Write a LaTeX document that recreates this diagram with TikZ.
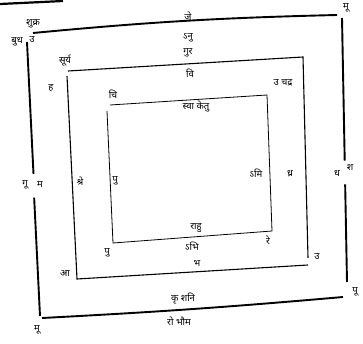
\documentclass[tikz,border=0pt]{standalone}
\usepackage{fontspec}
\newfontfamily\deva[Script=Devanagari]{Noto Sans}
\usetikzlibrary{positioning, calc}

\begin{document}
\begin{tikzpicture}[x=1pt,y=-1pt,
    lbl/.style={font=\deva\bfseries\fontsize{9.5}{10}\selectfont, inner sep=0.5pt},
    outerline/.style={line width=1.9pt},
    midline/.style={line width=1.1pt},
    innerline/.style={line width=0.8pt}]
    \useasboundingbox (0,0) rectangle (363,344);

    % scrap of the page edge
    \draw[line width=2.2pt] (0,4) -- (63,1);

    % outer square corners
    \coordinate (otl) at (33,33);
    \coordinate (otr) at (337,15);
    \coordinate (ort) at (342,18);
    \coordinate (orb) at (347,282);
    \coordinate (obr) at (343,297);
    \coordinate (obl) at (42,318);
    \coordinate (olb) at (40,316);
    \coordinate (olt) at (27,42);
    \draw[outerline] (otl) to[bend left=2] (otr);
    \draw[outerline] (obl) to[bend right=1] (obr);
    \draw[outerline] (olt) -- ($(olt)!0.5!(olb)+(0,-5)$) coordinate (olg1);
    \draw[outerline] ($(olt)!0.55!(olb)+(0,5)$) coordinate (olg2) -- (olb);
    \draw[outerline] (ort) -- ($(ort)!0.54!(orb)$) coordinate (org1);
    \draw[outerline] ($(ort)!0.63!(orb)$) coordinate (org2) -- (orb);

    % middle square corners
    \coordinate (mtl) at (68,71);
    \coordinate (mtr) at (303,57);
    \coordinate (mrb) at (308,258);
    \coordinate (mbr) at (308,265);
    \coordinate (mbl) at (77,279);
    \coordinate (mlt) at (67,76);
    \draw[midline] (mtl) -- (mtr) -- (mrb);
    \draw[midline] (mlt) -- (mbl) -- (mbr);

    % inner square corners
    \coordinate (itl) at (110,105);
    \coordinate (itr) at (267,95);
    \coordinate (ibr) at (272,231);
    \coordinate (ibl) at (113,243);
    \coordinate (ilt) at (107,111);
    \draw[innerline] (itl) -- (itr) -- (ibr) -- (ibl) -- (ilt);

    % outer labels
    \node[lbl] (shukra) at (33,24) {शुक्र};
    \node[lbl] (budha) at (17,42) {बुध};
    \node[lbl] (budhu) at (32,40) {उ};
    \node[lbl] (je) at (188,16) {जे};
    \node[lbl] (mutr) at (346,8) {मू};
    \node[lbl] (gu) at (25,185) {गू};
    \node[lbl] (gum) at (40,185) {म};
    \node[lbl] (dha) at (337,173) {ध};
    \node[lbl] (sha) at (350,168) {श};
    \node[lbl] (pu) at (355,292) {पू};
    \node[lbl] (mubl) at (37,330) {मू};
    \node[lbl] (krshani) at (183,299) {कृ शनि};
    \node[lbl] (robhaum) at (179,321) {रो भौम};

    % middle labels
    \node[lbl] (anu) at (188,38) {ऽनु};
    \node[lbl] (gur) at (188,53) {गुर};
    \node[lbl] (surya) at (65,61) {सूर्य};
    \node[lbl] (ha) at (51,88) {ह};
    \node[lbl] (uchandra) at (283,83) {उ चद्र};
    \node[lbl] (shre) at (80,181) {श्रे};
    \node[lbl] (dhra) at (290,174) {ध्र};
    \node[lbl] (aa) at (65,273) {आ};
    \node[lbl] (ul) at (317,257) {उ};
    \node[lbl] (bha) at (197,263) {भ};

    % inner labels
    \node[lbl] (vi) at (190,73) {वि};
    \node[lbl] (chi) at (113,94) {चि};
    \node[lbl] (svaketu) at (196,107) {स्वा केतु};
    \node[lbl] (pui) at (115,181) {पु};
    \node[lbl] (abhi) at (256,173) {ऽमि};
    \node[lbl] (rahu) at (196,228) {राहु};
    \node[lbl] (abhib) at (192,246) {ऽभि};
    \node[lbl] (re) at (268,240) {रे};
    \node[lbl] (pub) at (107,253) {पु};
\end{tikzpicture}
\end{document}
